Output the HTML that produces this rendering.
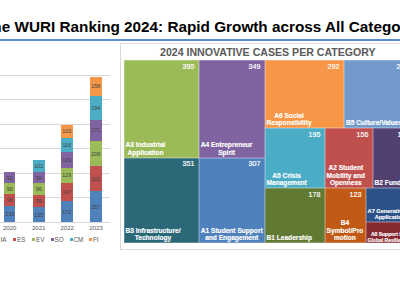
<!DOCTYPE html>
<html><head><meta charset="utf-8">
<style>
*{margin:0;padding:0;box-sizing:border-box}
html,body{width:400px;height:284px;overflow:hidden;background:#fff;font-family:"Liberation Sans",sans-serif}
#title{position:absolute;left:-17px;top:17.2px;font-size:15.3px;font-weight:bold;color:#000;white-space:nowrap;line-height:20px}
#uline{position:absolute;left:0;top:38.5px;width:400px;height:2.2px;background:#5b8fd6}
.grid{position:absolute;left:0;width:110px;height:1px;background:#d9d9d9}
#axis{position:absolute;left:0;top:222px;width:110px;height:1px;background:#d9d9d9}
.bar{position:absolute;width:11.5px}
.bl{position:absolute;left:0;width:100%;text-align:center;font-size:6.2px;color:#404040;line-height:8px;transform:scaleX(.87)}
.yr{position:absolute;top:224px;font-size:6px;color:#595959;line-height:8px}
.lg{position:absolute;top:236px;font-size:6.3px;color:#595959;line-height:8px;white-space:nowrap}
.sq{display:inline-block;width:3px;height:3px;margin-right:1px;vertical-align:1px}
#panel{position:absolute;left:120px;top:43px;width:300px;height:207px;border:1px solid #d9d9d9}
#ptitle{position:absolute;left:160px;top:45px;font-size:10.6px;font-weight:bold;color:#595959;white-space:nowrap;line-height:14px}
.t{position:absolute;box-shadow:inset 0 0 0 0.5px rgba(255,255,255,.45);color:#fff;font-weight:bold;overflow:hidden}
.v{position:absolute;right:4.4px;top:1.8px;font-size:8px;font-weight:normal;line-height:9px;transform:scaleX(.88);transform-origin:100% 50%;color:#fff;-webkit-text-stroke:0.2px #fff}
.lb{position:absolute;left:2px;bottom:1.3px;-webkit-text-stroke:0.15px #fff;font-size:6.6px;line-height:7.6px;text-align:center;white-space:nowrap}
</style></head><body>
<div id="title">The WURI Ranking 2024: Rapid Growth across All Categories</div>
<div id="uline"></div>
<div class="grid" style="top:197.48px"></div>
<div class="grid" style="top:172.96px"></div>
<div class="grid" style="top:148.44px"></div>
<div class="grid" style="top:123.92px"></div>
<div class="grid" style="top:99.4px"></div>
<div class="grid" style="top:74.88px"></div>
<div id="axis"></div>
<div class="bar" style="left:3.9px;top:206.19px;height:16.31px;background:#4f81bd"><span class="bl" style="top:4.15px">133</span></div>
<div class="bar" style="left:3.9px;top:194.42px;height:11.77px;background:#c0504d"><span class="bl" style="top:1.88px">96</span></div>
<div class="bar" style="left:3.9px;top:183.39px;height:11.03px;background:#9bbb59"><span class="bl" style="top:1.52px">90</span></div>
<div class="bar" style="left:3.9px;top:172.11px;height:11.28px;background:#8064a2"><span class="bl" style="top:1.64px">92</span></div>
<div class="bar" style="left:33px;top:207.18px;height:15.32px;background:#4f81bd"><span class="bl" style="top:3.66px">125</span></div>
<div class="bar" style="left:33px;top:195.04px;height:12.14px;background:#c0504d"><span class="bl" style="top:2.07px">99</span></div>
<div class="bar" style="left:33px;top:183.27px;height:11.77px;background:#9bbb59"><span class="bl" style="top:1.88px">96</span></div>
<div class="bar" style="left:33px;top:172.23px;height:11.03px;background:#8064a2"><span class="bl" style="top:1.52px">90</span></div>
<div class="bar" style="left:33px;top:159.85px;height:12.38px;background:#4bacc6"><span class="bl" style="top:2.19px">101</span></div>
<div class="bar" style="left:61.3px;top:201.41px;height:21.09px;background:#4f81bd"><span class="bl" style="top:6.54px">172</span></div>
<div class="bar" style="left:61.3px;top:183.39px;height:18.02px;background:#c0504d"><span class="bl" style="top:5.01px">147</span></div>
<div class="bar" style="left:61.3px;top:167.58px;height:15.82px;background:#9bbb59"><span class="bl" style="top:3.91px">129</span></div>
<div class="bar" style="left:61.3px;top:151.76px;height:15.82px;background:#8064a2"><span class="bl" style="top:3.91px">129</span></div>
<div class="bar" style="left:61.3px;top:137.54px;height:14.22px;background:#4bacc6"><span class="bl" style="top:3.11px">116</span></div>
<div class="bar" style="left:61.3px;top:124.91px;height:12.63px;background:#f79646"><span class="bl" style="top:2.31px">103</span></div>
<div class="bar" style="left:90.2px;top:190.99px;height:31.51px;background:#4f81bd"><span class="bl" style="top:11.75px">257</span></div>
<div class="bar" style="left:90.2px;top:166.35px;height:24.64px;background:#c0504d"><span class="bl" style="top:8.32px">201</span></div>
<div class="bar" style="left:90.2px;top:140.85px;height:25.50px;background:#9bbb59"><span class="bl" style="top:8.75px">208</span></div>
<div class="bar" style="left:90.2px;top:119.88px;height:20.96px;background:#8064a2"><span class="bl" style="top:6.48px">171</span></div>
<div class="bar" style="left:90.2px;top:96.10px;height:23.78px;background:#4bacc6"><span class="bl" style="top:7.89px">194</span></div>
<div class="bar" style="left:90.2px;top:76.73px;height:19.37px;background:#f79646"><span class="bl" style="top:5.69px">158</span></div>

<div class="yr" style="left:3px">2020</div>
<div class="yr" style="left:32px">2021</div>
<div class="yr" style="left:60.5px">2022</div>
<div class="yr" style="left:89.5px">2023</div>
<div class="lg" style="left:0.5px">IA</div>
<div class="lg" style="left:13px"><span class="sq" style="background:#c0504d"></span>ES</div>
<div class="lg" style="left:32px"><span class="sq" style="background:#9bbb59"></span>EV</div>
<div class="lg" style="left:50.5px"><span class="sq" style="background:#8064a2"></span>SO</div>
<div class="lg" style="left:69.5px"><span class="sq" style="background:#4bacc6"></span>CM</div>
<div class="lg" style="left:89px"><span class="sq" style="background:#f79646"></span>FI</div>
<div id="panel"></div>
<div id="ptitle">2024 INNOVATIVE CASES PER CATEGORY</div>
<div class="t" style="left:123.5px;top:60px;width:75.25px;height:97.5px;background:#9bbb59"><span class="v">395</span><span class="lb" style="">A3 Industrial<br>Application</span></div>
<div class="t" style="left:123.5px;top:157.5px;width:75.25px;height:85.80000000000001px;background:#2b6878"><span class="v">351</span><span class="lb" style="">B3 Infrastructure/<br>Technology</span></div>
<div class="t" style="left:198.75px;top:60px;width:65.75px;height:97.5px;background:#8064a2"><span class="v">349</span><span class="lb" style="">A4 Entrepreneur<br>Spirit</span></div>
<div class="t" style="left:198.75px;top:157.5px;width:65.75px;height:85.80000000000001px;background:#4f81bd"><span class="v">307</span><span class="lb" style="">A1 Student Support<br>and Engagement</span></div>
<div class="t" style="left:264.5px;top:60px;width:79.5px;height:68px;background:#f79646"><span class="v">292</span><span class="lb" style="">A6 Social<br>Responsibility</span></div>
<div class="t" style="left:344px;top:60px;width:69px;height:68px;background:#729aca"><span class="v">265</span><span class="lb" style="">B5 Culture/Values</span></div>
<div class="t" style="left:264.5px;top:128px;width:60.10000000000002px;height:60.30000000000001px;background:#4bacc6"><span class="v">195</span><span class="lb" style="">A5 Crisis<br>Management</span></div>
<div class="t" style="left:264.5px;top:188.3px;width:60.10000000000002px;height:55.0px;background:#617a33"><span class="v">178</span><span class="lb" style="">B1 Leadership</span></div>
<div class="t" style="left:324.6px;top:128px;width:48.0px;height:60.30000000000001px;background:#c0504d"><span class="v">156</span><span class="lb" style="">A2 Student<br>Mobility and<br>Openness</span></div>
<div class="t" style="left:372.6px;top:128px;width:41.39999999999998px;height:60.30000000000001px;background:#514070"><span class="v">139</span><span class="lb" style="">B2 Funding</span></div>
<div class="t" style="left:324.6px;top:188.3px;width:41.0px;height:55.0px;background:#c05a14"><span class="v">123</span><span class="lb" style="">B4<br>Symbol/Pro<br>motion</span></div>
<div class="t" style="left:365.6px;top:188.3px;width:50.39999999999998px;height:34.0px;background:#2c5288"><span class="lb" style="font-size:5.6px;line-height:6.2px;bottom:2px">A7 Generative AI<br>Application</span></div>
<div class="t" style="left:365.6px;top:222.3px;width:50.39999999999998px;height:21.0px;background:#852a30"><span class="lb" style="font-size:5px;line-height:5.8px;bottom:-0.1px">A8 Support for<br>Global Resilience</span></div>

</body></html>
